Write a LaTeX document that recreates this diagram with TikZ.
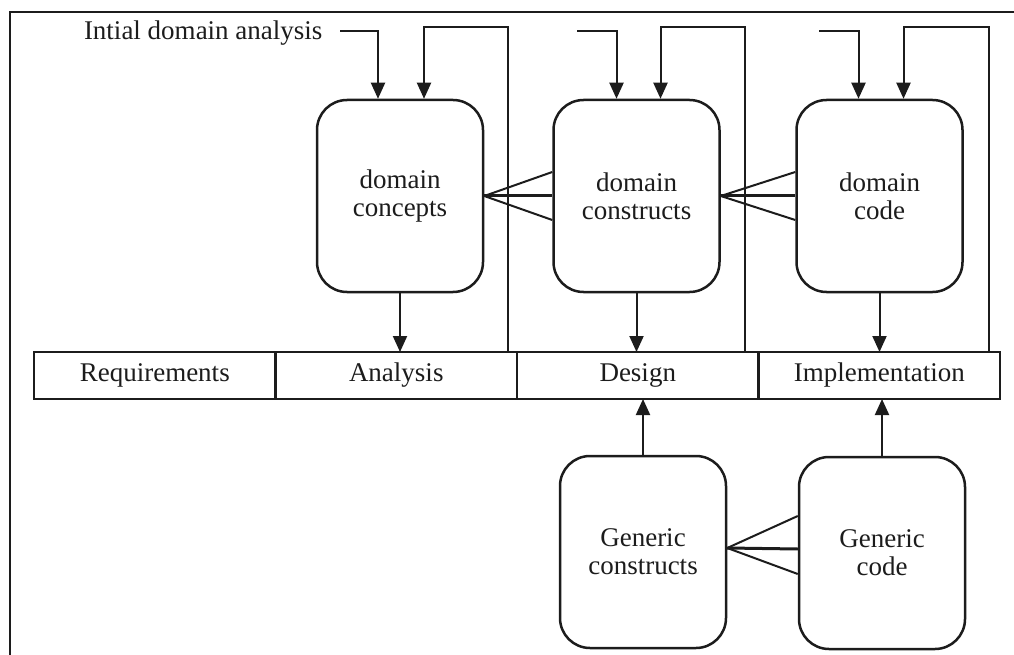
\documentclass[tikz,border=0pt]{standalone}
\usepackage{fontspec}
\setmainfont{Liberation Serif}
\usetikzlibrary{arrows.meta,positioning}
\definecolor{inkgray}{HTML}{1C1C1C}

\begin{document}
\begin{tikzpicture}[x=1pt, y=-1pt, >={Triangle[width=14pt,length=16pt]}, line width=2pt, draw=inkgray, text=inkgray,
  font=\fontsize{27}{28}\selectfont,
  stage/.style={draw, line width=2.5pt, rounded corners=30pt, minimum width=166pt, minimum height=192pt, align=center, inner sep=0pt},
  phase/.style={draw, line width=2.5pt, minimum width=241.5pt, minimum height=47pt, inner sep=0pt, outer sep=0pt}]
  \useasboundingbox (0,0) rectangle (1014,655);
  \draw[line width=2.5pt] (10,655) -- (10,12) -- (1014,12);
  \node[phase] (req) at (154.75,375.5) {Requirements};
  \node[phase, right=0pt of req] (analysis) {Analysis};
  \node[phase, right=0pt of analysis] (design) {Design};
  \node[phase, right=0pt of design] (impl) {Implementation};
  \node[stage] (concepts) at (400,196) {domain\\concepts};
  \node[stage] (constructs) at (636.5,196) {domain\\constructs};
  \node[stage] (code) at (879.5,196) {domain\\code};
  \node[stage] (gconstructs) at (643,552) {Generic\\constructs};
  \node[stage] (gcode) at (882,553) {Generic\\code};
  \node[anchor=base west, inner sep=0pt] (ida) at (83,40) {Intial domain analysis};
  \coordinate (in1) at (340,31);
  \coordinate (in2) at (577,31);
  \coordinate (in3) at (819,31);
  \coordinate (fb) at (0,27);
  \draw[->] (in1) -| ([xshift=-22pt]concepts.north);
  \draw[->] (in2) -| ([xshift=-20pt]constructs.north);
  \draw[->] (in3) -| ([xshift=-21pt]code.north);
  \draw[->] ([xshift=-9pt]analysis.north east) |- ([xshift=24pt]concepts.north |- fb) -- ([xshift=24pt]concepts.north);
  \draw[->] ([xshift=-14pt]design.north east) |- ([xshift=24pt]constructs.north |- fb) -- ([xshift=24pt]constructs.north);
  \draw[->] ([xshift=-11pt]impl.north east) |- ([xshift=24pt]code.north |- fb) -- ([xshift=24pt]code.north);
  \draw[->] (concepts.south) -- (concepts.south |- analysis.north);
  \draw[->] (constructs.south) -- (constructs.south |- design.north);
  \draw[->] (code.south) -- (code.south |- impl.north);
  \draw[->] (gconstructs.north) -- (gconstructs.north |- design.south);
  \draw[->] (gcode.north) -- (gcode.north |- impl.south);
  \draw (concepts.east) -- ([yshift=24pt]constructs.west);
  \draw[line width=3pt] (concepts.east) -- (constructs.west);
  \draw (concepts.east) -- ([yshift=-24pt]constructs.west);
  \draw (constructs.east) -- ([yshift=24pt]code.west);
  \draw[line width=3pt] (constructs.east) -- (code.west);
  \draw (constructs.east) -- ([yshift=-24pt]code.west);
  \draw ([yshift=4pt]gconstructs.east) -- ([yshift=37pt]gcode.west);
  \draw[line width=3pt] ([yshift=4pt]gconstructs.east) -- ([yshift=4pt]gcode.west);
  \draw ([yshift=4pt]gconstructs.east) -- ([yshift=-21pt]gcode.west);
\end{tikzpicture}
\end{document}
